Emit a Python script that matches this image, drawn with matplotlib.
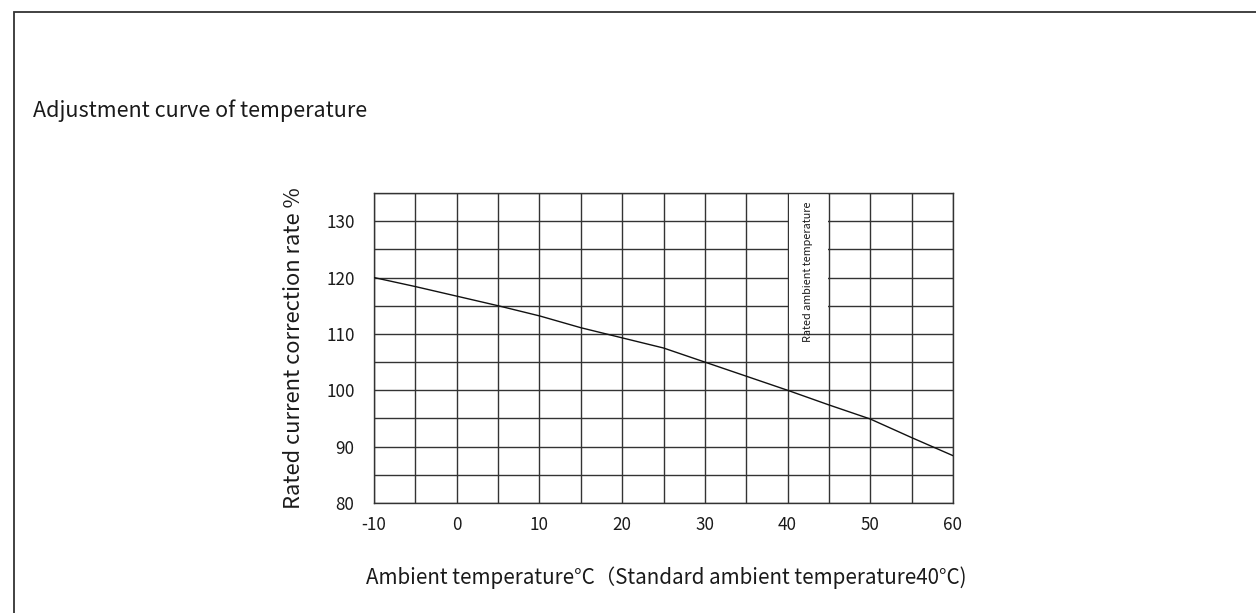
import matplotlib
matplotlib.use("Agg")
import matplotlib.pyplot as plt
from matplotlib.patches import Rectangle

plt.rcParams['font.family'] = ['Noto Sans CJK SC', 'DejaVu Sans']
plt.rcParams['axes.unicode_minus'] = False

temps = [-10, -5, 0, 5, 10, 15, 20, 25, 30, 35, 40, 45, 50, 55, 60]
rates = [120, 118.4, 116.7, 115, 113.2, 111.1, 109.3, 107.5, 105, 102.5, 100, 97.4, 94.9, 91.6, 88.4]
xticks = [-10, 0, 10, 20, 30, 40, 50, 60]
yticks = [80, 90, 100, 110, 120, 130]

title = "Adjustment curve of temperature"
ylabel = "Rated current correction rate %"
xlabel = "Ambient temperature°C（Standard ambient temperature40°C)"
note = "Rated ambient temperature"

fig = plt.figure(figsize=(12.56, 6.13), dpi=100)
fig.patch.set_facecolor('white')

# outer frame
fig.add_artist(Rectangle((14/1256, -0.1), 1.2, (1 - 12/613) + 0.1,
                         transform=fig.transFigure, fill=False,
                         edgecolor='#333333', linewidth=1.3))

ax = fig.add_axes([374/1256, 1 - 503/613, (953 - 374)/1256, (503 - 193)/613])
ax.set_xlim(-10, 60)
ax.set_ylim(80, 135)

gc = '#333333'
for x in range(-10, 61, 5):
    ax.axvline(x, color=gc, linewidth=1.0, zorder=1)
for y in range(80, 136, 5):
    ax.axhline(y, color=gc, linewidth=1.0, zorder=1)

# white box behind vertical note
ax.add_patch(Rectangle((40.15, 110.15), 4.7, 25, facecolor='white', edgecolor='none', zorder=2))
ax.text(42.5, 121.1, note, rotation=90, ha='center', va='center', fontsize=7.8,
        color='#1a1a1a', zorder=3)

ax.plot(temps, rates, color='#111111', linewidth=1.0, zorder=4)

for s in ax.spines.values():
    s.set_color(gc)
    s.set_linewidth(1.0)

ax.set_xticks(xticks)
ax.set_yticks(yticks)
ax.tick_params(length=0, labelsize=12.3, colors='#1a1a1a')
ax.tick_params(axis='x', pad=9)
ax.tick_params(axis='y', pad=14)

ax.set_ylabel(ylabel, fontsize=15.8, color='#1a1a1a', labelpad=15)

fig.text(33/1256, 1 - 117/613, title, fontsize=15.5, color='#1a1a1a', ha='left', va='baseline')
fig.text(666/1256, 1 - 578/613, xlabel, fontsize=14.8, color='#1a1a1a', ha='center', va='center')

fig.savefig('out.png', dpi=100, facecolor='white')
